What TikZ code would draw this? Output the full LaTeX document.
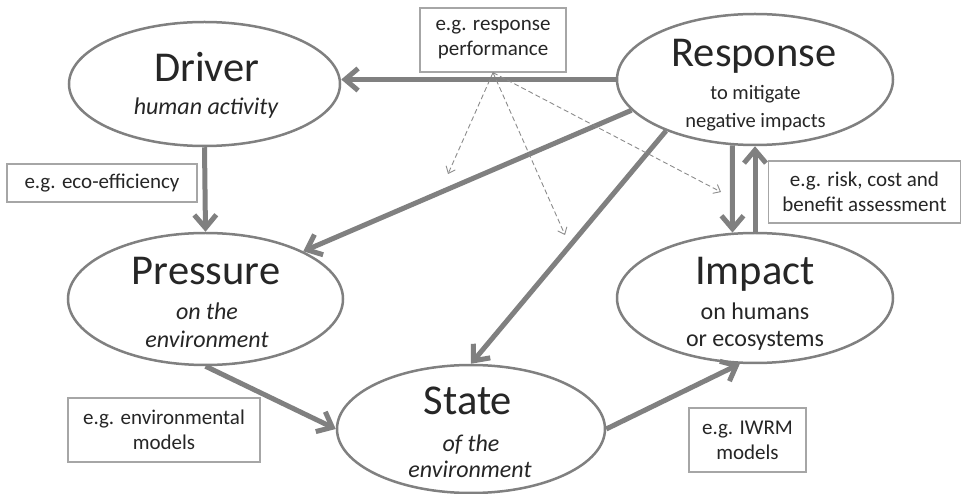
\documentclass[tikz,border=0pt]{standalone}
\usepackage{fontspec}
\setmainfont{Carlito}
\usetikzlibrary{shapes.geometric,arrows.meta}
\definecolor{linegray}{HTML}{808080}
\definecolor{boxgray}{HTML}{A6A6A6}
\definecolor{dashgray}{HTML}{8C8C8C}
\definecolor{ink}{HTML}{262626}
\begin{document}
\begin{tikzpicture}[x=1pt,y=-1pt,
  stage/.style={ellipse, draw=linegray, line width=2.5pt, inner sep=0pt},
  ttl/.style={anchor=base, text=ink, inner sep=0pt, font=\fontsize{42.5}{50}\selectfont},
  subi/.style={anchor=base, text=ink, inner sep=0pt, font=\fontsize{24}{28}\selectfont\itshape},
  subr/.style={anchor=base, text=ink, inner sep=0pt, font=\fontsize{24}{28}\selectfont},
  subs/.style={anchor=base, text=ink, inner sep=0pt, font=\fontsize{20.5}{24}\selectfont},
  note/.style={draw=boxgray, line width=1.2pt, fill=white, text=ink, align=center,
    inner sep=0pt, font=\fontsize{21}{25}\selectfont},
  flow/.style={draw=linegray, line width=5pt,
    -{Straight Barb[length=13pt,width=22pt]}},
  hint/.style={draw=dashgray, line width=0.9pt, dash pattern=on 5pt off 3pt,
    -{Straight Barb[length=6pt,width=10pt]}}
]
\useasboundingbox (0,0) rectangle (962,494);
\fill[white] (0,0) rectangle (962,494);

% the five DPSIR stages
\node[stage, minimum width=271pt, minimum height=124pt] (driver)   at (204.5,84)  {};
\node[stage, minimum width=276pt, minimum height=131pt] (response) at (755,79.5)  {};
\node[stage, minimum width=275pt, minimum height=132pt] (pressure) at (205.5,299) {};
\node[stage, minimum width=276pt, minimum height=130pt] (impact)   at (755,298)   {};
\node[stage, minimum width=268pt, minimum height=128pt] (state)    at (471,429)   {};

% stage titles and descriptions
\node[ttl]  (driver-t)   at (207,82)    {Driver};
\node[subi] (driver-s)   at (206,115)   {human activity};
\node[ttl]  (response-t) at (754,67)    {Response};
\node[subs] (response-s) at (755.5,100) {to mitigate};
\node[subs] (response-u) at (755.5,128) {negative impacts};
\node[ttl]  (pressure-t) at (206,285)   {Pressure};
\node[subi] (pressure-s) at (207,320)   {on the};
\node[subi] (pressure-u) at (207,348)   {environment};
\node[ttl]  (impact-t)   at (755,285)   {Impact};
\node[subr] (impact-s)   at (755,320)   {on humans};
\node[subr] (impact-u)   at (755,347)   {or ecosystems};
\node[ttl]  (state-t)    at (468,415)   {State};
\node[subi] (state-s)    at (471,452)   {of the};
\node[subi] (state-u)    at (470,478)   {environment};

% indicator / tool boxes
\node[note, minimum width=146pt, minimum height=64pt] (perf) at (493,40)    {e.g. response\\performance};
\node[note, minimum width=190pt, minimum height=38pt] (eco)  at (102,183)   {e.g. eco-efficiency};
\node[note, minimum width=192pt, minimum height=62pt] (risk) at (864.5,192) {e.g. risk, cost and\\benefit assessment};
\node[note, minimum width=192pt, minimum height=64pt] (envm) at (164,430)   {e.g. environmental\\models};
\node[note, minimum width=117pt, minimum height=64pt] (iwrm) at (747.5,440) {e.g. IWRM\\models};

% causal chain
\draw[flow] (response.west) -- (driver.east |- response.west);
\draw[flow] (driver.south) -- (pressure.north);
\draw[flow] (response.194) -- (pressure.26);
\draw[flow] (response.210) -- (state.north);
\draw[flow] (response.251) -- (impact.109);
\draw[flow] (impact.north) -- (response.south);
\draw[flow] (pressure.south) -- (state.west);
\draw[flow] (state.east) -- (impact.257);

% response performance feedback
\coordinate (h1) at (448,174);
\coordinate (h2) at (565,235);
\coordinate (h3) at (721,192);
\draw[hint] (perf.south) -- (h1);
\draw[hint] (perf.south) -- (h2);
\draw[hint] (perf.south) -- (h3);
\end{tikzpicture}
\end{document}
